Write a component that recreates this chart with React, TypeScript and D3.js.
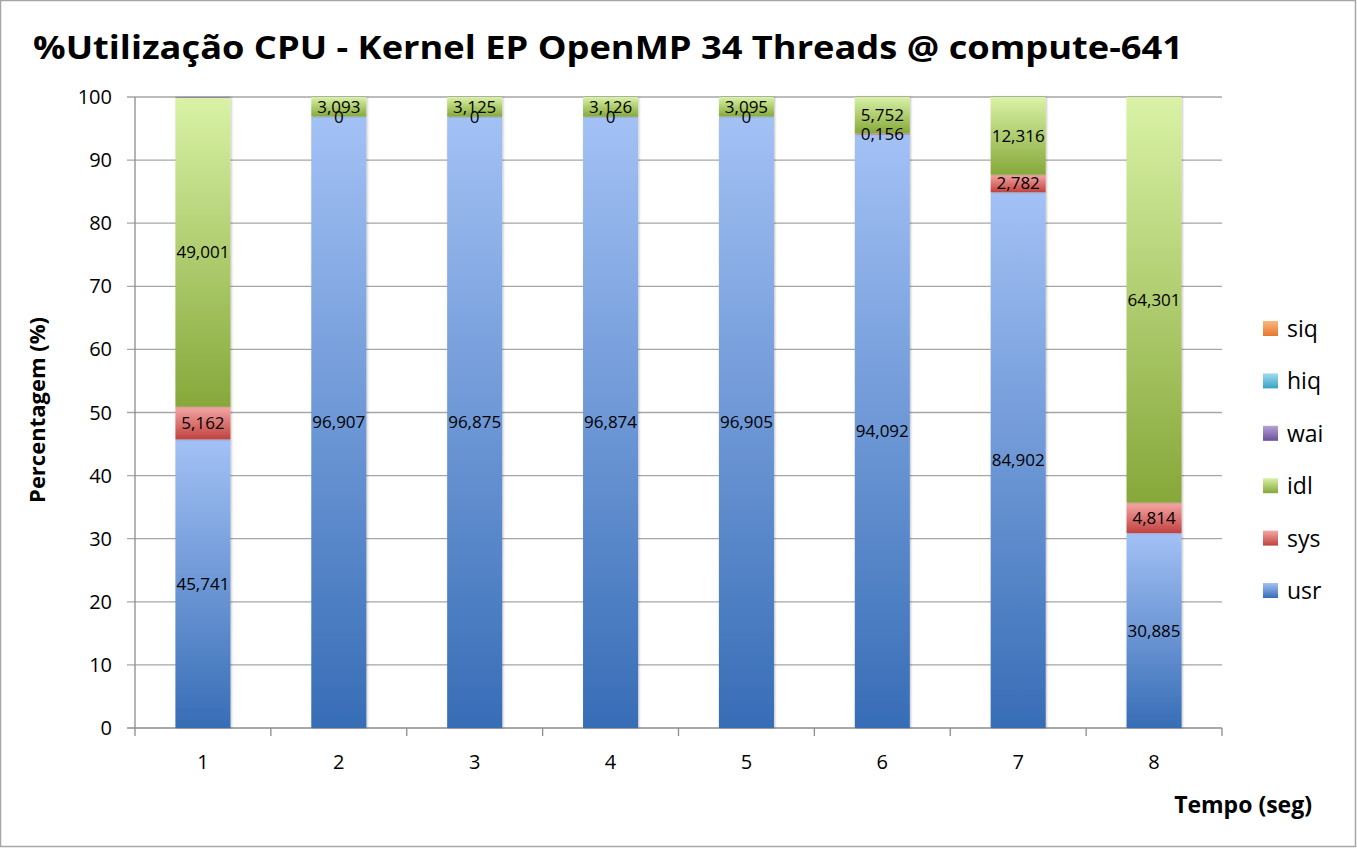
import React from "react";
import * as d3 from "d3";

const categories = ["1", "2", "3", "4", "5", "6", "7", "8"];
const usr = [45.741, 96.907, 96.875, 96.874, 96.905, 94.092, 84.902, 30.885];
const sys = [5.162, 0, 0, 0, 0, 0.156, 2.782, 4.814];
const idl = [49.001, 3.093, 3.125, 3.126, 3.095, 5.752, 12.316, 64.301];
const wai = [0.096, 0, 0, 0, 0, 0, 0, 0];
const hiq = [0, 0, 0, 0, 0, 0, 0, 0];
const siq = [0, 0, 0, 0, 0, 0, 0, 0];
const yTicks = [0, 10, 20, 30, 40, 50, 60, 70, 80, 90, 100];

const seriesNames = ["usr", "sys", "idl", "wai", "hiq", "siq"];
const seriesValues = [usr, sys, idl, wai, hiq, siq];
const labelled = ["usr", "sys", "idl"];

// gradient stops: top (light) -> bottom (dark)
const colors: Record<string, [string, string]> = {
  usr: ["#a3c1f5", "#376db6"],
  sys: ["#f5a8a6", "#c0423f"],
  idl: ["#d9f2a6", "#86a83a"],
  wai: ["#b8a3d6", "#6a4f99"],
  hiq: ["#9edcf0", "#3aa2c4"],
  siq: ["#fbb77f", "#e5782c"],
};

const W = 1357;
const H = 848;
const FONT = "'Open Sans', 'Noto Sans', sans-serif";

export default function App() {
  const x = d3
    .scaleBand()
    .domain(categories)
    .range([135, 1222])
    .paddingInner(0.595)
    .paddingOuter(0.2975);
  const y = d3.scaleLinear().domain([0, 100]).range([728, 97]);

  const table = categories.map((c, i) => {
    const row: any = { cat: c };
    seriesNames.forEach((s, k) => (row[s] = seriesValues[k][i]));
    return row;
  });
  const stacked = d3.stack().keys(seriesNames)(table);

  const step = x.step();
  const legendOrder = [...seriesNames].reverse();

  return (
    <svg
      width={W}
      height={H}
      style={{ position: "absolute", left: 0, top: 0, background: "#fff" }}
      fontFamily={FONT}
    >
      <defs>
        {seriesNames.map((s) => (
          <linearGradient key={s} id={"g-" + s} x1="0" y1="0" x2="0" y2="1">
            <stop offset="0%" stopColor={colors[s][0]} />
            <stop offset="100%" stopColor={colors[s][1]} />
          </linearGradient>
        ))}
        <filter id="shadow" x="-20%" y="-5%" width="140%" height="110%">
          <feDropShadow dx="1" dy="0" stdDeviation="1.2" floodColor="#000" floodOpacity="0.25" />
        </filter>
      </defs>
      <rect x={0.5} y={0.5} width={W - 2} height={H - 2} fill="#fff" stroke="#a6a6a6" strokeWidth={1.5} />

      {/* title */}
      <text
        x={608}
        y={59}
        textAnchor="middle"
        fontSize={33}
        fontWeight="bold"
        fill="#000"
        textLength={1150}
        lengthAdjust="spacingAndGlyphs"
      >
        %Utilização CPU - Kernel EP OpenMP 34 Threads @ compute-641
      </text>

      {/* grid */}
      {yTicks.map((t) => (
        <g key={t}>
          <line x1={127} x2={1222} y1={y(t)} y2={y(t)} stroke={t === 0 ? "#8c8c8c" : "#a6a6a6"} strokeWidth={1.3} />
          <text x={112} y={y(t) + 7} textAnchor="end" fontSize={20} fill="#000">
            {t}
          </text>
        </g>
      ))}
      <line x1={135} x2={135} y1={y(100)} y2={y(0)} stroke="#8c8c8c" strokeWidth={1.3} />
      {categories.map((c, i) => (
        <line
          key={"tk" + c}
          x1={135 + step * (i + 1)}
          x2={135 + step * (i + 1)}
          y1={y(0)}
          y2={y(0) + 8}
          stroke="#8c8c8c"
          strokeWidth={1.3}
        />
      ))}
      <line x1={135} x2={135} y1={y(0)} y2={y(0) + 8} stroke="#8c8c8c" strokeWidth={1.3} />

      {/* bars */}
      {stacked.map((layer) => (
        <g key={layer.key} fill={`url(#g-${layer.key})`}>
          {layer.map((d, i) =>
            d[1] - d[0] > 0 ? (
              <rect
                key={i}
                x={x(categories[i])}
                y={y(d[1])}
                width={x.bandwidth()}
                height={y(d[0]) - y(d[1])}
                filter="url(#shadow)"
              />
            ) : null
          )}
        </g>
      ))}

      {/* data labels */}
      {stacked
        .filter((l) => labelled.includes(l.key))
        .map((layer) => (
          <g key={"lb" + layer.key}>
            {layer.map((d, i) => (
              <text
                key={i}
                x={(x(categories[i]) as number) + x.bandwidth() / 2}
                y={y((d[0] + d[1]) / 2) + 6}
                textAnchor="middle"
                fontSize={17}
                fill="#000"
              >
                {d3.format(".3~f")(d[1] - d[0]).replace(".", ",")}
              </text>
            ))}
          </g>
        ))}

      {/* x labels */}
      {categories.map((c) => (
        <text
          key={"xl" + c}
          x={(x(c) as number) + x.bandwidth() / 2}
          y={769}
          textAnchor="middle"
          fontSize={20}
          fill="#000"
        >
          {c}
        </text>
      ))}

      {/* axis titles */}
      <text
        transform="translate(45,410) rotate(-90)"
        textAnchor="middle"
        fontSize={22}
        fontWeight="bold"
        fill="#000"
      >
        Percentagem (%)
      </text>
      <text x={1312} y={813} textAnchor="end" fontSize={23} fontWeight="bold" fill="#000">
        Tempo (seg)
      </text>

      {/* legend */}
      {legendOrder.map((s, i) => (
        <g key={"lg" + s} transform={`translate(1263,${321 + i * 52.4})`}>
          <rect width={15} height={15} fill={`url(#g-${s})`} />
          <text x={24} y={16} fontSize={23} fill="#000">
            {s}
          </text>
        </g>
      ))}
    </svg>
  );
}
